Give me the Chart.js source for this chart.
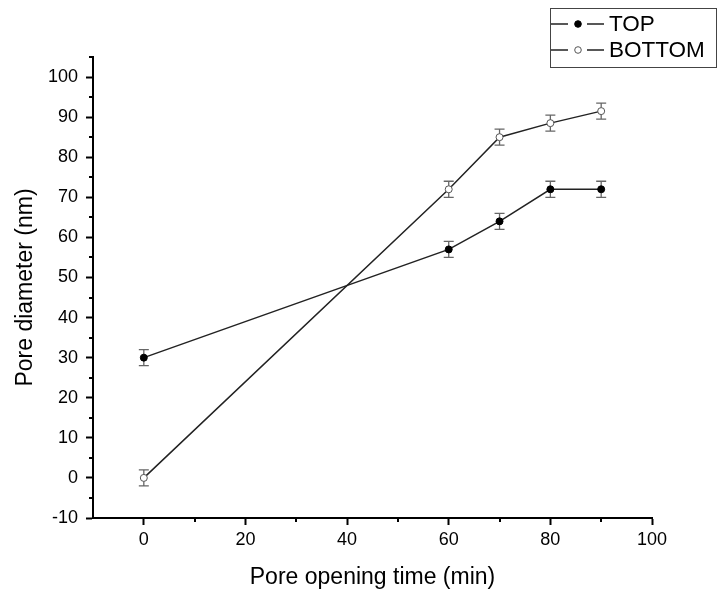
<!DOCTYPE html>
<html>
	<head>
		<meta charset="UTF-8" />
		<title>Pore diameter</title>
		<script src="https://cdn.jsdelivr.net/npm/chart.js"></script>
		<style>
			html, body { margin: 0; padding: 0; background: #fff; }
			#wrap { width: 718px; height: 592px; }
		</style>
	</head>
	<body>
		<div id="wrap"><canvas id="poreChart" width="718" height="592"></canvas></div>
		<script>
			const times = [0, 60, 70, 80, 90];
			const topValues = [30, 57, 64, 72, 72];
			const topErrors = [2, 2, 2, 2, 2];
			const bottomValues = [0, 72, 85, 88.5, 91.5];
			const bottomErrors = [2, 2, 2, 2, 2];

			const xMajorTicks = [0, 20, 40, 60, 80, 100];
			const xMinorTicks = [10, 30, 50, 70, 90];
			const yMajorTicks = [-10, 0, 10, 20, 30, 40, 50, 60, 70, 80, 90, 100];
			const yMinorTicks = [-5, 5, 15, 25, 35, 45, 55, 65, 75, 85, 95, 105];

			const FONT = "'Liberation Sans', Arial, sans-serif";

			const errorBars = {
			  id: "errorBars",
			  beforeDatasetsDraw(chart) {
			    const { ctx, scales: { x, y } } = chart;
			    const sets = [[topValues, topErrors], [bottomValues, bottomErrors]];
			    ctx.save();
			    ctx.strokeStyle = "#666";
			    ctx.lineWidth = 1.3;
			    sets.forEach(([vals, errs]) => {
			      vals.forEach((v, i) => {
			        const px = x.getPixelForValue(times[i]);
			        const y1 = y.getPixelForValue(v + errs[i]);
			        const y2 = y.getPixelForValue(v - errs[i]);
			        ctx.beginPath();
			        ctx.moveTo(px, y1); ctx.lineTo(px, y2);
			        ctx.moveTo(px - 5, y1); ctx.lineTo(px + 5, y1);
			        ctx.moveTo(px - 5, y2); ctx.lineTo(px + 5, y2);
			        ctx.stroke();
			      });
			    });
			    ctx.restore();
			  }
			};

			const minorTicks = {
			  id: "minorTicks",
			  afterDraw(chart) {
			    const { ctx, scales: { x, y }, chartArea } = chart;
			    ctx.save();
			    ctx.strokeStyle = "#000";
			    ctx.lineWidth = 2;
			    ctx.beginPath();
			    xMinorTicks.forEach(v => {
			      const px = Math.round(x.getPixelForValue(v));
			      ctx.moveTo(px, chartArea.bottom);
			      ctx.lineTo(px, chartArea.bottom + 4);
			    });
			    yMinorTicks.forEach(v => {
			      const py = Math.round(y.getPixelForValue(v));
			      ctx.moveTo(chartArea.left, py);
			      ctx.lineTo(chartArea.left - 4, py);
			    });
			    ctx.stroke();
			    ctx.restore();
			  }
			};

			const boxLegend = {
			  id: "boxLegend",
			  afterDraw(chart) {
			    const ctx = chart.ctx;
			    ctx.save();
			    ctx.strokeStyle = "#444";
			    ctx.lineWidth = 1;
			    ctx.strokeRect(550.5, 8.5, 166, 59);
			    const rows = [
			      { y: 24, label: "TOP", fill: "#000", stroke: "#000" },
			      { y: 50, label: "BOTTOM", fill: "#fff", stroke: "#555" }
			    ];
			    rows.forEach(r => {
			      ctx.strokeStyle = "#222";
			      ctx.lineWidth = 1.5;
			      ctx.beginPath();
			      ctx.moveTo(551, r.y); ctx.lineTo(568, r.y);
			      ctx.moveTo(587, r.y); ctx.lineTo(604, r.y);
			      ctx.stroke();
			      ctx.beginPath();
			      ctx.arc(578, r.y, 3.3, 0, Math.PI * 2);
			      ctx.fillStyle = r.fill;
			      ctx.fill();
			      ctx.strokeStyle = r.stroke;
			      ctx.lineWidth = 1;
			      ctx.stroke();
			      ctx.fillStyle = "#000";
			      ctx.font = "22.5px " + FONT;
			      ctx.textBaseline = "middle";
			      ctx.textAlign = "left";
			      ctx.fillText(r.label, 609, r.y + 1);
			    });
			    ctx.restore();
			  }
			};

			new Chart(document.getElementById("poreChart"), {
			  type: "line",
			  data: {
			    datasets: [
			      {
			        label: "TOP",
			        data: times.map((t, i) => ({ x: t, y: topValues[i] })),
			        borderColor: "#222",
			        borderWidth: 1.5,
			        pointRadius: 3.5,
			        pointBackgroundColor: "#000",
			        pointBorderColor: "#000",
			        pointBorderWidth: 1,
			        tension: 0
			      },
			      {
			        label: "BOTTOM",
			        data: times.map((t, i) => ({ x: t, y: bottomValues[i] })),
			        borderColor: "#222",
			        borderWidth: 1.5,
			        pointRadius: 3.5,
			        pointBackgroundColor: "#fff",
			        pointBorderColor: "#555",
			        pointBorderWidth: 1,
			        tension: 0
			      }
			    ]
			  },
			  options: {
			    responsive: false,
			    animation: false,
			    layout: { padding: { left: 0, top: 57, right: 66, bottom: 0 } },
			    plugins: {
			      legend: { display: false },
			      tooltip: { enabled: false }
			    },
			    scales: {
			      x: {
			        type: "linear",
			        min: -10,
			        max: 100,
			        afterBuildTicks: s => { s.ticks = xMajorTicks.map(v => ({ value: v })); },
			        afterFit: s => { s.height = 74; },
			        grid: { drawOnChartArea: false, tickLength: 7, tickWidth: 2, tickColor: "#000" },
			        border: { display: true, color: "#000", width: 2 },
			        ticks: { color: "#000", font: { family: FONT, size: 18 }, padding: 4 },
			        title: {
			          display: true,
			          text: "Pore opening time (min)",
			          color: "#000",
			          font: { family: FONT, size: 23 },
			          padding: { top: 0, bottom: 1 }
			        }
			      },
			      y: {
			        min: -10,
			        max: 105,
			        afterBuildTicks: s => { s.ticks = yMajorTicks.map(v => ({ value: v })); },
			        afterFit: s => { s.width = 93; },
			        grid: { drawOnChartArea: false, tickLength: 7, tickWidth: 2, tickColor: "#000" },
			        border: { display: true, color: "#000", width: 2 },
			        ticks: { color: "#000", font: { family: FONT, size: 18 }, padding: 8 },
			        title: {
			          display: true,
			          text: "Pore diameter (nm)",
			          color: "#000",
			          font: { family: FONT, size: 23 },
			          padding: { top: 12, bottom: 0 }
			        }
			      }
			    }
			  },
			  plugins: [errorBars, minorTicks, boxLegend]
			});
		</script>
	</body>
</html>
